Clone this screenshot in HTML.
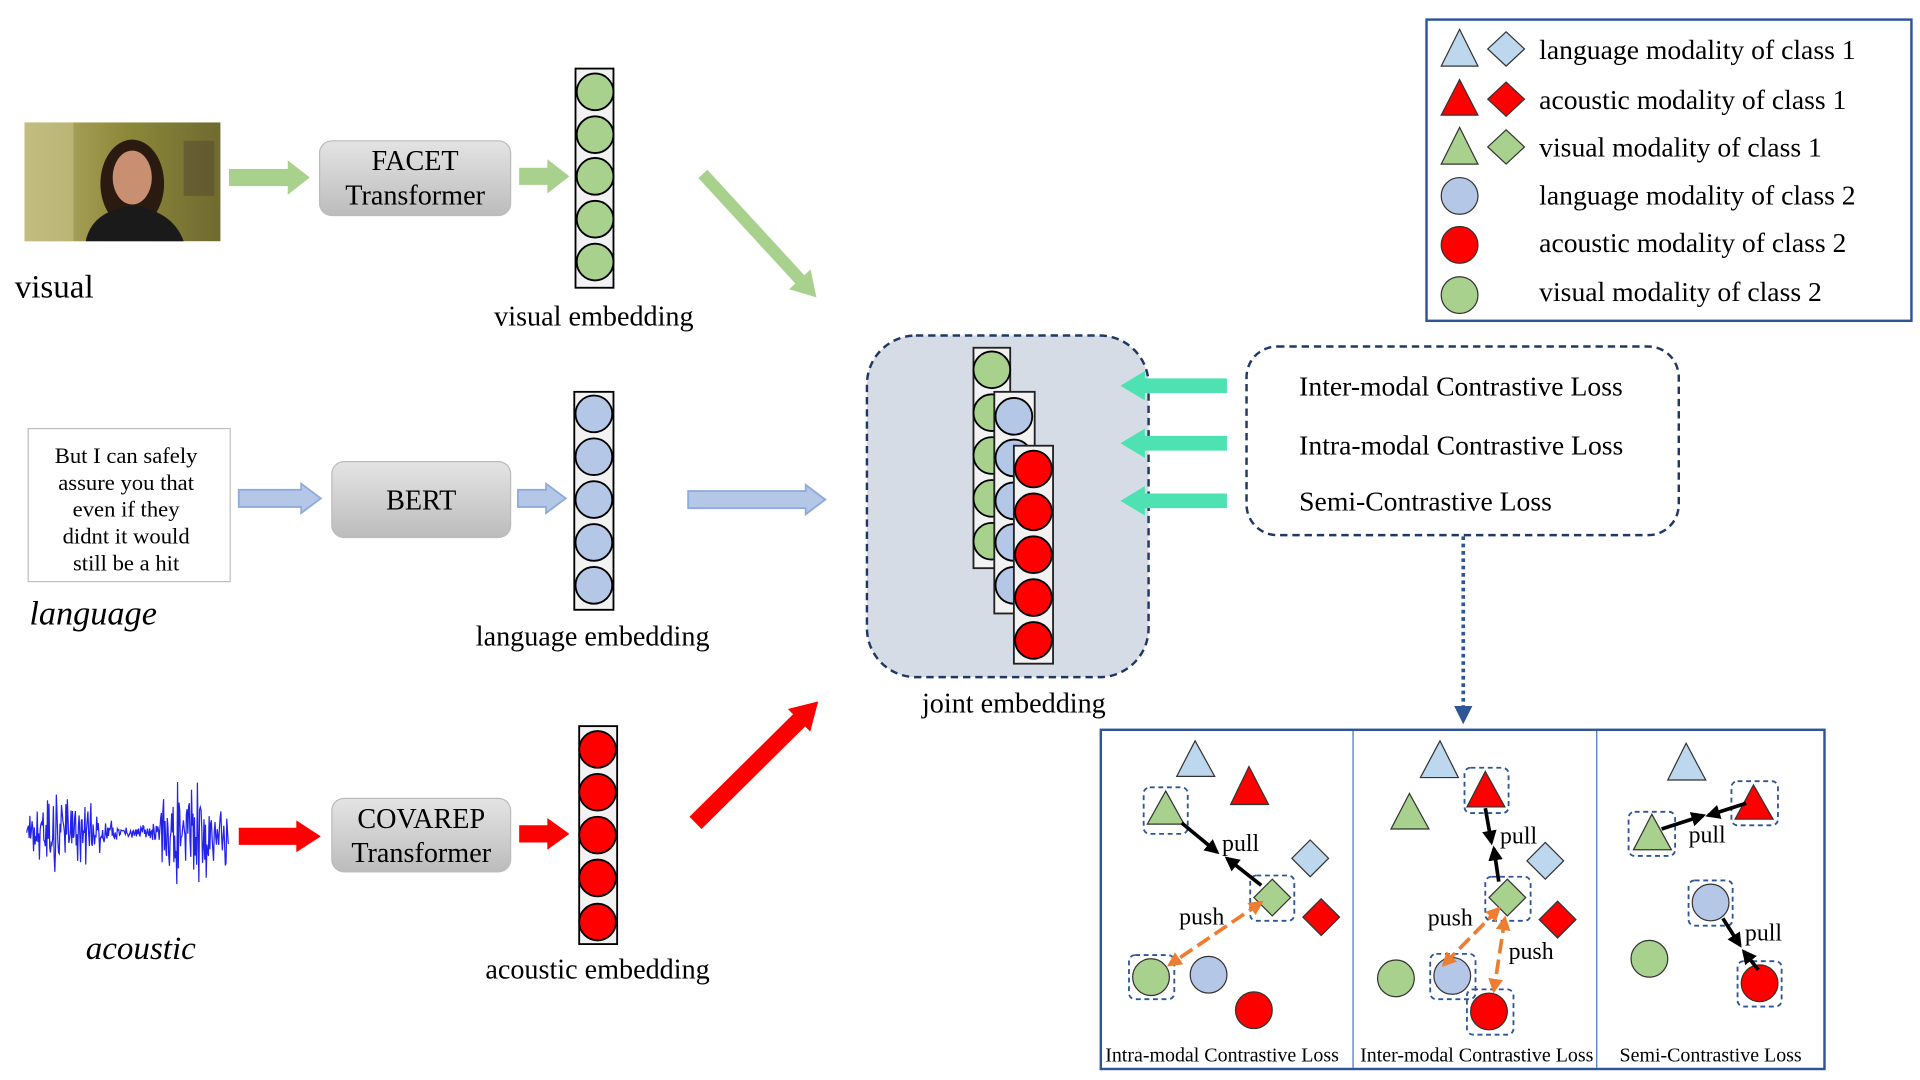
<!DOCTYPE html>
<html><head><meta charset="utf-8"><style>
html,body{margin:0;padding:0;background:#fff;}
svg{display:block;font-family:"Liberation Serif",serif;}
</style></head><body>
<svg width="1920" height="1080" viewBox="0 0 1568 882" xmlns="http://www.w3.org/2000/svg">
<defs>
<linearGradient id="gb" x1="0" y1="0" x2="0" y2="1"><stop offset="0" stop-color="#e4e4e4"/><stop offset="1" stop-color="#bcbcbc"/></linearGradient>
<linearGradient id="ph" x1="0" y1="0" x2="1" y2="0"><stop offset="0" stop-color="#b8b070"/><stop offset="0.5" stop-color="#8e8a3a"/><stop offset="1" stop-color="#6f6a30"/></linearGradient>
<marker id="ab" viewBox="0 0 10 10" refX="8" refY="5" markerWidth="4" markerHeight="4" orient="auto-start-reverse"><path d="M0,0 L10,5 L0,10 z" fill="#000"/></marker>
<marker id="ao" viewBox="0 0 10 10" refX="8" refY="5" markerWidth="4" markerHeight="4" orient="auto-start-reverse"><path d="M0,0 L10,5 L0,10 z" fill="#ed7d31"/></marker>
<marker id="an" viewBox="0 0 10 10" refX="5" refY="5" markerWidth="5" markerHeight="5" orient="auto"><path d="M0,0 L10,5 L0,10 z" fill="#2f5597"/></marker>
</defs>

<!-- photo -->
<rect x="20" y="100" width="160" height="97" fill="url(#ph)"/>
<rect x="20" y="100" width="40" height="97" fill="#c9c48a" opacity="0.6"/>
<rect x="150" y="115" width="25" height="45" fill="#5a5030" opacity="0.6"/>
<ellipse cx="108" cy="150" rx="26" ry="36" fill="#2a1a10"/>
<ellipse cx="108" cy="145" rx="16" ry="22" fill="#c89070"/>
<path d="M70,197 Q75,172 108,168 Q141,172 150,197 Z" fill="#1a1a1a"/>
<text x="12" y="243" font-size="27">visual</text>

<polygon points="187,138 235,138 235,131 253,145 235,159 235,152 187,152" fill="#a9d18e"/>
<rect x="261" y="115" width="156" height="61" rx="10" fill="url(#gb)" stroke="#bbb"/>
<text x="339" y="139" font-size="23" text-anchor="middle">FACET</text>
<text x="339" y="167" font-size="23" text-anchor="middle">Transformer</text>
<polygon points="424,137 447,137 447,130 465,144 447,158 447,151 424,151" fill="#a9d18e"/>
<rect x="470" y="56" width="31" height="179" fill="#f2f2f2" stroke="#000" stroke-width="1.5"/>
<g fill="#a9d18e" stroke="#000" stroke-width="1.5">
<circle cx="486" cy="75" r="15"/><circle cx="486" cy="110" r="15"/><circle cx="486" cy="144" r="15"/><circle cx="486" cy="179" r="15"/><circle cx="486" cy="214" r="15"/></g>
<text x="485" y="266" font-size="23" text-anchor="middle">visual embedding</text>
<g transform="translate(574,142) rotate(47.4)"><polygon points="0,-5 117,-5 117,-12 137,0 117,12 117,5 0,5" fill="#a9d18e"/></g>

<!-- language -->
<rect x="23" y="350" width="165" height="125" fill="#fff" stroke="#bfbfbf"/>
<g font-size="18.5" text-anchor="middle">
<text x="103" y="378">But I can safely</text><text x="103" y="400">assure you that</text><text x="103" y="422">even if they</text><text x="103" y="444">didnt it would</text><text x="103" y="466">still be a hit</text></g>
<text x="24" y="510" font-size="28" font-style="italic">language</text>
<g fill="#b4c7e7" stroke="#8faadc" stroke-width="1.5">
<polygon points="195,400 246,400 246,395 262,407 246,419 246,414 195,414"/>
<polygon points="423,400 446,400 446,395 462,407 446,419 446,414 423,414"/>
<polygon points="562,401 658,401 658,396 674,408 658,420 658,415 562,415"/></g>
<rect x="271" y="377" width="146" height="62" rx="10" fill="url(#gb)" stroke="#bbb"/>
<text x="344" y="416" font-size="23" text-anchor="middle">BERT</text>
<rect x="469" y="320" width="32" height="178" fill="#f2f2f2" stroke="#000" stroke-width="1.5"/>
<g fill="#b4c7e7" stroke="#000" stroke-width="1.5">
<circle cx="485" cy="338" r="15"/><circle cx="485" cy="373" r="15"/><circle cx="485" cy="408" r="15"/><circle cx="485" cy="443" r="15"/><circle cx="485" cy="478" r="15"/></g>
<text x="484" y="527" font-size="23" text-anchor="middle">language embedding</text>

<!-- acoustic -->
<path id="wave" d="M22,680 L187,680" stroke="#2323e8" stroke-width="1" fill="none"/>
<text x="70" y="783" font-size="27" font-style="italic">acoustic</text>
<g fill="#ff0000">
<polygon points="195,676 242,676 242,670 262,683 242,696 242,690 195,690"/>
<polygon points="424,674 447,674 447,668 465,681 447,694 447,688 424,688"/></g>
<rect x="271" y="652" width="146" height="60" rx="10" fill="url(#gb)" stroke="#bbb"/>
<text x="344" y="676" font-size="23" text-anchor="middle">COVAREP</text>
<text x="344" y="704" font-size="23" text-anchor="middle">Transformer</text>
<rect x="473" y="593" width="31" height="178" fill="#f2f2f2" stroke="#000" stroke-width="1.5"/>
<g fill="#ff0000" stroke="#000" stroke-width="1.5">
<circle cx="488" cy="612" r="15"/><circle cx="488" cy="647" r="15"/><circle cx="488" cy="682" r="15"/><circle cx="488" cy="717" r="15"/><circle cx="488" cy="753" r="15"/></g>
<text x="488" y="799" font-size="23" text-anchor="middle">acoustic embedding</text>
<g transform="translate(568,672) rotate(-44.7)"><polygon points="0,-7 119,-7 119,-13 141,0 119,13 119,7 0,7" fill="#ff0000"/></g>

<!-- joint -->
<rect x="708" y="274" width="230" height="279" rx="40" fill="#d6dce5" stroke="#1f3864" stroke-width="2" stroke-dasharray="6,4"/>
<rect x="795" y="284" width="30" height="180" fill="#f2f2f2" stroke="#222" stroke-width="1.5"/>
<g fill="#a9d18e" stroke="#000" stroke-width="1.5">
<circle cx="810" cy="302" r="15"/><circle cx="810" cy="337" r="15"/><circle cx="810" cy="372" r="15"/><circle cx="810" cy="407" r="15"/><circle cx="810" cy="442" r="15"/></g>
<rect x="812" y="320" width="33" height="181" fill="#f2f2f2" stroke="#222" stroke-width="1.5"/>
<g fill="#b4c7e7" stroke="#000" stroke-width="1.5">
<circle cx="828" cy="340" r="15"/><circle cx="828" cy="374" r="15"/><circle cx="828" cy="409" r="15"/><circle cx="828" cy="443" r="15"/><circle cx="828" cy="478" r="15"/></g>
<rect x="828" y="364" width="32" height="178" fill="#f2f2f2" stroke="#222" stroke-width="1.5"/>
<g fill="#ff0000" stroke="#000" stroke-width="1.5">
<circle cx="844" cy="383" r="15"/><circle cx="844" cy="418" r="15"/><circle cx="844" cy="453" r="15"/><circle cx="844" cy="488" r="15"/><circle cx="844" cy="523" r="15"/></g>
<text x="828" y="582" font-size="23" text-anchor="middle">joint embedding</text>

<g fill="#4ee2b2">
<polygon points="1002,309 935,309 935,303 915,315 935,327 935,321 1002,321"/>
<polygon points="1002,356 935,356 935,350 915,362 935,374 935,368 1002,368"/>
<polygon points="1002,403 935,403 935,397 915,409 935,421 935,415 1002,415"/></g>
<rect x="1018" y="283" width="353" height="154" rx="25" fill="#fff" stroke="#1f3864" stroke-width="2" stroke-dasharray="6,4"/>
<g font-size="22.6"><text x="1061" y="323">Inter-modal Contrastive Loss</text><text x="1061" y="371">Intra-modal Contrastive Loss</text><text x="1061" y="417">Semi-Contrastive Loss</text></g>
<line x1="1195" y1="438" x2="1195" y2="584" stroke="#2f5597" stroke-width="3" stroke-dasharray="3,3" marker-end="url(#an)"/>

<!-- legend -->
<rect x="1165" y="16" width="396" height="246" fill="#fff" stroke="#2f5597" stroke-width="2"/>
<g stroke="#333" stroke-width="1">
<polygon points="1192,24 1177,54 1207,54" fill="#bdd7ee"/><polygon points="1230,26 1245,40 1230,54 1215,40" fill="#bdd7ee"/>
<polygon points="1192,65 1177,94 1207,94" fill="#ff0000"/><polygon points="1230,67 1245,81 1230,95 1215,81" fill="#ff0000"/>
<polygon points="1192,104 1177,134 1207,134" fill="#a9d18e"/><polygon points="1230,106 1245,120 1230,134 1215,120" fill="#a9d18e"/>
<circle cx="1192" cy="160" r="15" fill="#b4c7e7"/><circle cx="1192" cy="200" r="15" fill="#ff0000"/><circle cx="1192" cy="241" r="15" fill="#a9d18e"/></g>
<g font-size="22.6"><text x="1257" y="48">language modality of class 1</text><text x="1257" y="89">acoustic modality of class 1</text><text x="1257" y="128">visual modality of class 1</text><text x="1257" y="167">language modality of class 2</text><text x="1257" y="206">acoustic modality of class 2</text><text x="1257" y="246">visual modality of class 2</text></g>

<!-- bottom panel -->
<rect x="899" y="596" width="591" height="277" fill="#fff" stroke="#2f5597" stroke-width="2"/>
<line x1="1105" y1="597" x2="1105" y2="872" stroke="#4472c4" stroke-width="1"/>
<line x1="1304" y1="597" x2="1304" y2="872" stroke="#4472c4" stroke-width="1"/>
<g fill="none" stroke="#2f5597" stroke-width="1.5" stroke-dasharray="4,3">
<rect x="934" y="643" width="36" height="38" rx="5"/><rect x="1021" y="715" width="36" height="37" rx="5"/><rect x="922" y="780" width="37" height="36" rx="5"/>
<rect x="1196" y="627" width="36" height="37" rx="5"/><rect x="1213" y="716" width="37" height="36" rx="5"/><rect x="1168" y="779" width="37" height="37" rx="5"/><rect x="1198" y="808" width="38" height="37" rx="5"/>
<rect x="1330" y="663" width="38" height="36" rx="5"/><rect x="1414" y="638" width="38" height="36" rx="5"/><rect x="1379" y="719" width="36" height="37" rx="5"/><rect x="1419" y="785" width="36" height="37" rx="5"/></g>
<g stroke="#333" stroke-width="1">
<polygon points="976,605 961,634 992,634" fill="#bdd7ee"/><polygon points="1020,626 1005,657 1036,657" fill="#ff0000"/><polygon points="952,646 937,673 967,673" fill="#a9d18e"/>
<polygon points="1070,686 1085,701 1070,716 1055,701" fill="#bdd7ee"/><polygon points="1039,718 1054,733 1039,748 1024,733" fill="#a9d18e"/><polygon points="1079,734 1094,749 1079,764 1064,749" fill="#ff0000"/>
<circle cx="940" cy="798" r="15" fill="#a9d18e"/><circle cx="987" cy="796" r="15" fill="#b4c7e7"/><circle cx="1024" cy="825" r="15" fill="#ff0000"/>
<polygon points="1176,605 1160,635 1191,635" fill="#bdd7ee"/><polygon points="1151,648 1136,677 1167,677" fill="#a9d18e"/><polygon points="1213,630 1198,659 1229,659" fill="#ff0000"/>
<polygon points="1262,688 1277,703 1262,718 1247,703" fill="#bdd7ee"/><polygon points="1231,718 1246,733 1231,748 1216,733" fill="#a9d18e"/><polygon points="1272,736 1287,751 1272,766 1257,751" fill="#ff0000"/>
<circle cx="1140" cy="799" r="15" fill="#a9d18e"/><circle cx="1186" cy="797" r="15" fill="#b4c7e7"/><circle cx="1216" cy="826" r="15" fill="#ff0000"/>
<polygon points="1377,607 1362,637 1393,637" fill="#bdd7ee"/><polygon points="1349,665 1334,694 1365,694" fill="#a9d18e"/><polygon points="1432,641 1417,669 1448,669" fill="#ff0000"/>
<circle cx="1397" cy="737" r="15" fill="#b4c7e7"/><circle cx="1347" cy="783" r="15" fill="#a9d18e"/><circle cx="1437" cy="803" r="15" fill="#ff0000"/></g>
<g stroke="#000" stroke-width="3" marker-end="url(#ab)">
<line x1="965" y1="672" x2="994" y2="696"/><line x1="1030" y1="723" x2="1002" y2="701"/>
<line x1="1213" y1="660" x2="1218" y2="688"/><line x1="1224" y1="720" x2="1220" y2="693"/>
<line x1="1357" y1="677" x2="1391" y2="666"/><line x1="1426" y1="656" x2="1395" y2="666"/>
<line x1="1407" y1="750" x2="1421" y2="772"/><line x1="1436" y1="792" x2="1424" y2="777"/></g>
<g stroke="#ed7d31" stroke-width="3" stroke-dasharray="12,5" marker-start="url(#ao)" marker-end="url(#ao)">
<line x1="1030" y1="737" x2="955" y2="788"/><line x1="1224" y1="742" x2="1179" y2="788"/><line x1="1229" y1="750" x2="1220" y2="809"/></g>
<g font-size="19.5"><text x="998" y="695">pull</text><text x="963" y="755">push</text><text x="1225" y="689">pull</text><text x="1166" y="756">push</text><text x="1232" y="783">push</text><text x="1379" y="688">pull</text><text x="1425" y="768">pull</text></g>
<g font-size="16.3" text-anchor="middle"><text x="998" y="867">Intra-modal Contrastive Loss</text><text x="1206" y="867">Inter-modal Contrastive Loss</text><text x="1397" y="867">Semi-Contrastive Loss</text></g>
</svg>
<script>
(function(){var d="M22,680",s=12345;function r(){s=(s*9301+49297)%233280;return s/233280;}
for(var x=22;x<=187;x+=0.6){var env=18+14*Math.sin((x-22)/18)+ (x>130&&x<165?12:0);var y=680+(r()-0.5)*2*env*(0.5+r()*0.7);d+=" L"+x.toFixed(1)+","+y.toFixed(1);}
document.getElementById("wave").setAttribute("d",d);})();
</script>
</body></html>
